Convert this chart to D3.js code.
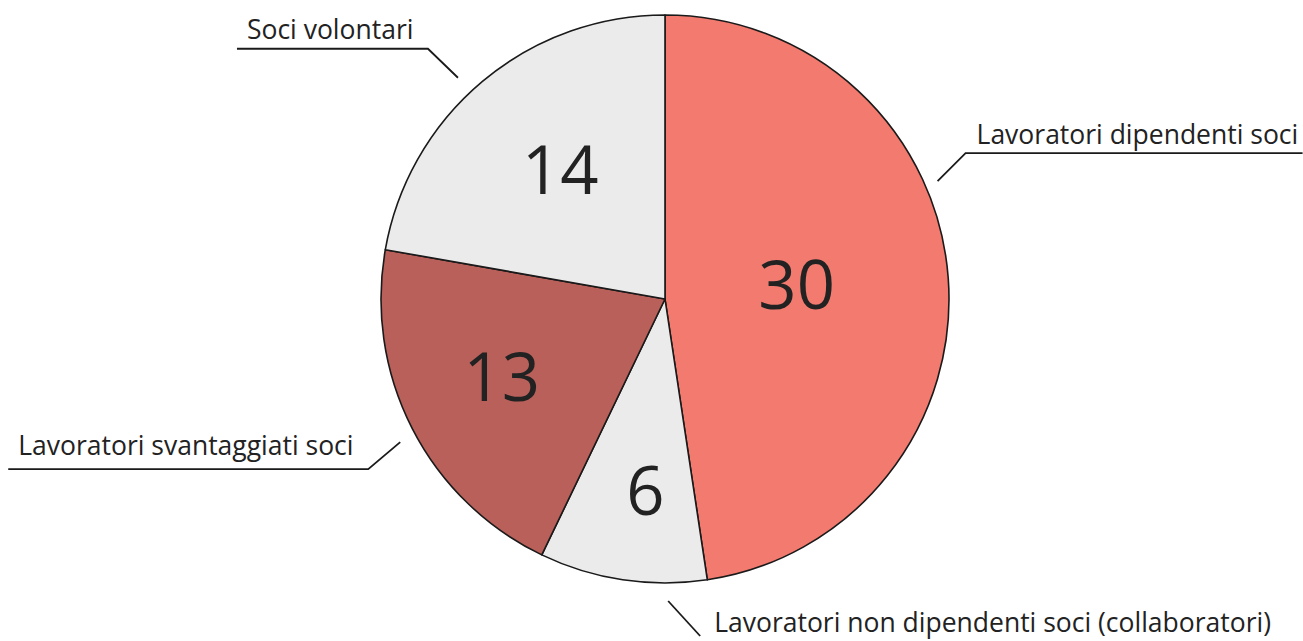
<!DOCTYPE html>
<html><head><meta charset="utf-8">
<script src="https://cdn.jsdelivr.net/npm/d3@7"></script>
<style>html,body{margin:0;padding:0;background:#fff;}svg{display:block;}</style>
</head><body>
<svg id="chart" width="1303" height="641"></svg>
<script>
const categories = ["Lavoratori dipendenti soci", "Lavoratori non dipendenti soci (collaboratori)", "Lavoratori svantaggiati soci", "Soci volontari"];
const values = [30, 6, 13, 14];
const colors = ["#F27A6E", "#EBEBEB", "#B9605A", "#EBEBEB"];

// layout (annotation styling, not data)
const cx = 665, cy = 299, R = 284;
const labelRadius = [132, 198, 180, 163];
const labelShiftX = [0, 10, -3, 0];
const labelShiftY = -6;
// leader: angle on pie (deg from top, clockwise), distance beyond R, elbow offset, horizontal run, text offset
const leaders = [
  {ang: 66.6, gap: 13, ex: 28, ey: -28, run: 337, tx: 11, ty: -9},
  {ang: 179.4, gap: 18, ex: 32, ey: 35, run: 0, tx: 14, ty: -4},
  {ang: 241.6, gap: 17, ex: -32, ey: 27, run: -360, tx: 10, ty: -14},
  {ang: 316.9, gap: 19, ex: -30, ey: -29, run: -191, tx: 10, ty: -10}
];

const svg = d3.select("#chart");
const g = svg.append("g").attr("transform", `translate(${cx},${cy})`);
const pie = d3.pie().sort(null).value(d => d)(values);
const arc = d3.arc().innerRadius(0).outerRadius(R);

g.selectAll("path.slice").data(pie).join("path")
  .attr("class", "slice")
  .attr("d", arc)
  .attr("fill", (d, i) => colors[i])
  .attr("stroke", "#1a1a1a")
  .attr("stroke-width", 1.6)
  .attr("stroke-linejoin", "round");

g.selectAll("text.val").data(pie).join("text")
  .attr("class", "val")
  .attr("transform", (d, i) => {
    const a = (d.startAngle + d.endAngle) / 2;
    const r = labelRadius[i];
    return `translate(${r * Math.sin(a) + labelShiftX[i]},${-r * Math.cos(a) + labelShiftY})`;
  })
  .attr("text-anchor", "middle")
  .attr("dominant-baseline", "central")
  .attr("font-family", "'Open Sans', 'Noto Sans', sans-serif")
  .attr("font-size", 67)
  .attr("fill", "#222")
  .text(d => d.data);

const lg = svg.append("g");
leaders.forEach((L, i) => {
  const a = L.ang * Math.PI / 180;
  const r = R + L.gap;
  const x0 = cx + r * Math.sin(a), y0 = cy - r * Math.cos(a);
  const x1 = x0 + L.ex, y1 = y0 + L.ey;
  const x2 = x1 + L.run;
  lg.append("path")
    .attr("d", d3.line()([[x0, y0], [x1, y1], [x2, y1]]))
    .attr("fill", "none")
    .attr("stroke", "#1a1a1a")
    .attr("stroke-width", 1.8);
  lg.append("text")
    .attr("x", (L.run < 0 ? x2 : x1) + L.tx)
    .attr("y", y1 + L.ty)
    .attr("font-family", "'Open Sans', 'Noto Sans', sans-serif")
    .attr("font-size", 26.5)
    .attr("fill", "#222")
    .text(categories[i]);
});
</script>
</body></html>
